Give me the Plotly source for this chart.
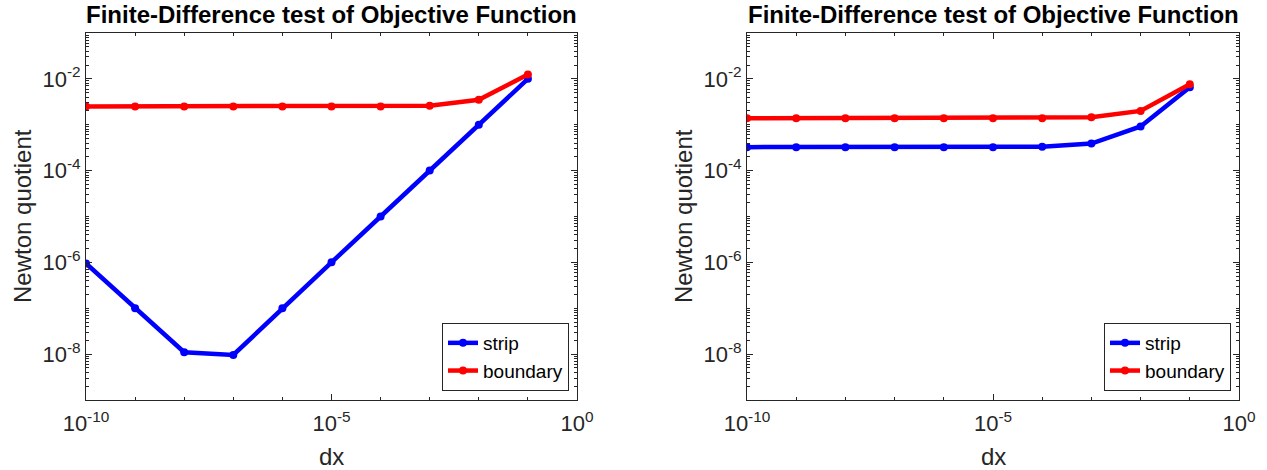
import numpy as np
import plotly.graph_objects as go

dx = [1e-10, 1e-9, 1e-8, 1e-7, 1e-6, 1e-5, 1e-4, 1e-3, 1e-2, 1e-1]

left_strip = [9.5e-7, 1.0e-7, 1.1e-8, 9.6e-9, 1.0e-7, 1.0e-6, 1.0e-5, 1.0e-4, 1.0e-3, 1.0e-2]
left_boundary = [2.5e-3, 2.5e-3, 2.5e-3, 2.5e-3, 2.5e-3, 2.5e-3, 2.5e-3, 2.6e-3, 3.5e-3, 1.25e-2]

right_strip = [3.25e-4, 3.25e-4, 3.25e-4, 3.25e-4, 3.25e-4, 3.25e-4, 3.3e-4, 3.9e-4, 9.2e-4, 6.6e-3]
right_boundary = [1.38e-3, 1.38e-3, 1.38e-3, 1.38e-3, 1.38e-3, 1.38e-3, 1.38e-3, 1.45e-3, 2.0e-3, 7.6e-3]

series_names = ["strip", "boundary"]
series_colors = ["#0000ff", "#ff0000"]

title_text = "Finite-Difference test of Objective Function"
xlabel = "dx"
ylabel = "Newton quotient"

x_tickvals = [1e-10, 1e-5, 1e0]
x_ticktext = ["10<sup>-10</sup>", "10<sup>-5</sup>", "10<sup>0</sup>"]
y_tickvals = [1e-8, 1e-6, 1e-4, 1e-2]
y_ticktext = ["10<sup>-8</sup>", "10<sup>-6</sup>", "10<sup>-4</sup>", "10<sup>-2</sup>"]

W, H = 1267, 470
FONT = "Liberation Sans, Arial, Helvetica, sans-serif"
AX = "#262626"

fig = go.Figure()

panels = [
    ("x", "y", "legend", [left_strip, left_boundary]),
    ("x2", "y2", "legend2", [right_strip, right_boundary]),
]
for xa, ya, lg, data in panels:
    for name, col, vals in zip(series_names, series_colors, data):
        fig.add_trace(go.Scatter(
            x=dx, y=vals, mode="lines+markers", name=name,
            line=dict(color=col, width=4.5),
            marker=dict(color=col, size=8, symbol="circle"),
            xaxis=xa, yaxis=ya, legend=lg,
        ))

x_minor = [10.0 ** k for k in range(-10, 1)]
y_minor = [m * 10.0 ** k for k in range(-10, 0) for m in range(1, 10)]

px_dom = [(86, 577), (747, 1239)]
ydom = [1 - 400 / H, 1 - 33 / H]

axis_common = dict(
    type="log", showgrid=False, zeroline=False, showline=True, automargin=False,
    linecolor=AX, linewidth=1, mirror="allticks", ticks="inside",
    ticklen=6, tickcolor=AX, tickwidth=1,
    tickfont=dict(family=FONT, size=22, color=AX),
)

layout = dict(
    width=W, height=H, margin=dict(l=0, r=0, t=0, b=0, autoexpand=False),
    paper_bgcolor="white", plot_bgcolor="white",
    font=dict(family=FONT, color=AX),
    showlegend=True,
)

for i, (a, b) in enumerate(px_dom):
    sfx = "" if i == 0 else str(i + 1)
    layout["xaxis" + sfx] = dict(
        axis_common, domain=[a / W, b / W], range=[-10, 0],
        tickvals=x_tickvals, ticktext=x_ticktext,
        anchor="y" + sfx, ticklabelstandoff=4,
        minor=dict(tickvals=x_minor, ticks="inside", ticklen=3, tickcolor=AX, tickwidth=1),
    )
    layout["yaxis" + sfx] = dict(
        axis_common, domain=ydom, range=[-9, -1],
        tickvals=y_tickvals, ticktext=y_ticktext,
        anchor="x" + sfx,
        minor=dict(tickvals=y_minor, ticks="inside", ticklen=3, tickcolor=AX, tickwidth=1),
    )

legend_common = dict(
    bgcolor="white", bordercolor=AX, borderwidth=1,
    font=dict(family=FONT, size=19, color="black"),
    xanchor="right", yanchor="bottom", tracegroupgap=0,
    itemwidth=30,
)
layout["legend"] = dict(legend_common, x=569 / W, y=1 - 391 / H)
layout["legend2"] = dict(legend_common, x=1231 / W, y=1 - 391 / H)

annotations = []
for (a, b) in px_dom:
    cx = (a + b) / 2 / W
    annotations.append(dict(
        text="<b>" + title_text + "</b>", x=cx, y=1 - 15 / H, xref="paper", yref="paper",
        showarrow=False, font=dict(family=FONT, size=24, color="black"),
        xanchor="center", yanchor="middle",
    ))
    annotations.append(dict(
        text=xlabel, x=cx, y=1 - 456 / H, xref="paper", yref="paper",
        showarrow=False, font=dict(family=FONT, size=24, color=AX),
        xanchor="center", yanchor="middle",
    ))
    annotations.append(dict(
        text=ylabel, x=(a - 64) / W, y=1 - 216 / H, xref="paper", yref="paper",
        showarrow=False, textangle=-90, font=dict(family=FONT, size=24, color=AX),
        xanchor="center", yanchor="middle",
    ))
layout["annotations"] = annotations

fig.update_layout(**layout)
fig.write_html(
    "out.html",
    config={"displayModeBar": False},
    post_script="document.body.style.margin='0';document.body.style.overflow='hidden';",
)
